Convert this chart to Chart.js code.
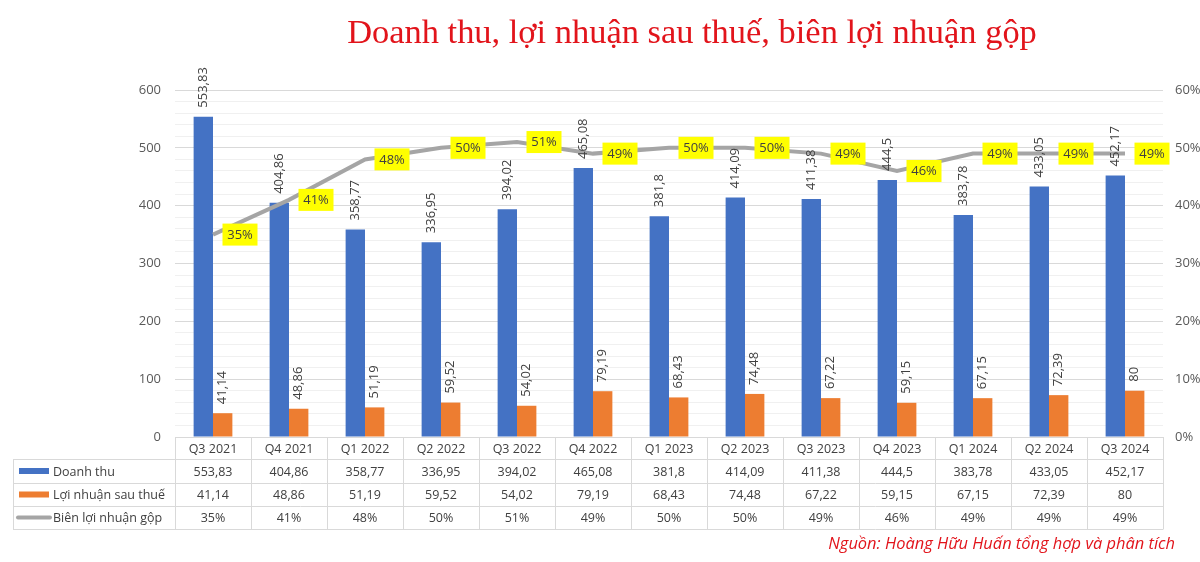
<!DOCTYPE html>
<html>
<head>
<meta charset="utf-8">
<style>
  html, body { margin: 0; padding: 0; background: #ffffff; }
  canvas { display: block; }
</style>
<script src="https://cdn.jsdelivr.net/npm/chart.js@4.4.0/dist/chart.umd.min.js"></script>
</head>
<body>
<canvas id="c" width="1200" height="562"></canvas>
<script>
const titleText = 'Doanh thu, lợi nhuận sau thuế, biên lợi nhuận gộp';
const sourceText = 'Nguồn: Hoàng Hữu Huấn tổng hợp và phân tích';
const categories = ['Q3 2021','Q4 2021','Q1 2022','Q2 2022','Q3 2022','Q4 2022','Q1 2023','Q2 2023','Q3 2023','Q4 2023','Q1 2024','Q2 2024','Q3 2024'];
const revenue = [553.83, 404.86, 358.77, 336.95, 394.02, 465.08, 381.8, 414.09, 411.38, 444.5, 383.78, 433.05, 452.17];
const profit = [41.14, 48.86, 51.19, 59.52, 54.02, 79.19, 68.43, 74.48, 67.22, 59.15, 67.15, 72.39, 80];
const margin = [35, 41, 48, 50, 51, 49, 50, 50, 49, 46, 49, 49, 49];
const seriesNames = ['Doanh thu', 'Lợi nhuận sau thuế', 'Biên lợi nhuận gộp'];
const leftTicks = [0, 100, 200, 300, 400, 500, 600];
const rightTicks = [0, 10, 20, 30, 40, 50, 60];

const BLUE = '#4472c4', ORANGE = '#ed7d31', GRAY = '#a5a5a5';
const TXT = '#404040', AXT = '#595959';
const FONT = '"Open Sans", "Noto Sans", sans-serif';

function fmt(v) { return String(v).replace('.', ','); }

const decorPlugin = {
  id: 'decor',
  afterDatasetsDraw(chart) {
    const ctx = chart.ctx;
    ctx.save();
    // bar value labels (rotated)
    [0, 1].forEach(di => {
      const meta = chart.getDatasetMeta(di);
      const data = chart.data.datasets[di].data;
      meta.data.forEach((bar, i) => {
        ctx.save();
        ctx.translate(bar.x, bar.y - 9);
        ctx.rotate(-Math.PI / 2);
        ctx.font = '13px ' + FONT;
        ctx.fillStyle = TXT;
        ctx.textAlign = 'left';
        ctx.textBaseline = 'middle';
        ctx.fillText(fmt(data[i]), 0, 0);
        ctx.restore();
      });
    });
    // line labels in yellow boxes
    const lm = chart.getDatasetMeta(2);
    lm.data.forEach((pt, i) => {
      const t = margin[i] + '%';
      ctx.font = '13px ' + FONT;
      const w = 35, h = 22;
      const cx = pt.x + 27, cy = pt.y;
      ctx.fillStyle = '#ffff00';
      ctx.fillRect(cx - w / 2, cy - h / 2, w, h);
      ctx.fillStyle = TXT;
      ctx.textAlign = 'center';
      ctx.textBaseline = 'middle';
      ctx.fillText(t, cx, cy + 0.5);
    });
    ctx.restore();
  },
  afterDraw(chart) {
    const ctx = chart.ctx;
    const area = chart.chartArea;
    const xs = chart.scales.x;
    ctx.save();
    // title
    let fs = 32;
    ctx.font = fs + 'px "Liberation Serif", "DejaVu Serif", serif';
    const tw = ctx.measureText(titleText).width;
    fs = fs * 690 / tw;
    ctx.font = fs + 'px "Liberation Serif", "DejaVu Serif", serif';
    ctx.fillStyle = '#e2141b';
    ctx.textAlign = 'center';
    ctx.textBaseline = 'alphabetic';
    ctx.fillText(titleText, 692, 43);

    // data table
    const n = categories.length;
    const colW = (area.right - area.left) / n;
    const rows = [area.bottom, 459, 483, 506, 529];
    const tableLeft = 13;
    ctx.strokeStyle = '#d9d9d9';
    ctx.lineWidth = 1;
    ctx.beginPath();
    ctx.moveTo(area.left, rows[0] + 0.5); ctx.lineTo(area.right, rows[0] + 0.5);
    for (let r = 1; r < rows.length; r++) {
      ctx.moveTo(tableLeft, rows[r] + 0.5); ctx.lineTo(area.right, rows[r] + 0.5);
    }
    for (let c = 0; c <= n; c++) {
      const x = Math.round(area.left + c * colW) + 0.5;
      ctx.moveTo(x, rows[0]); ctx.lineTo(x, rows[4] + 0.5);
    }
    ctx.moveTo(tableLeft + 0.5, rows[1]); ctx.lineTo(tableLeft + 0.5, rows[4] + 0.5);
    ctx.stroke();

    ctx.font = '12.5px ' + FONT;
    ctx.fillStyle = TXT;
    ctx.textBaseline = 'middle';
    ctx.textAlign = 'center';
    const rowVals = [categories, revenue.map(fmt), profit.map(fmt), margin.map(v => v + '%')];
    for (let r = 0; r < 4; r++) {
      const cy = (rows[r] + rows[r + 1]) / 2 + 1;
      for (let c = 0; c < n; c++) {
        const cx = xs.getPixelForValue(c);
        ctx.fillText(rowVals[r][c], cx, cy);
      }
    }
    // legend keys and names
    ctx.textAlign = 'left';
    for (let r = 1; r < 4; r++) {
      const cy = (rows[r] + rows[r + 1]) / 2;
      if (r === 1 || r === 2) {
        ctx.fillStyle = r === 1 ? BLUE : ORANGE;
        ctx.fillRect(19, cy - 3, 30, 6);
      } else {
        ctx.strokeStyle = GRAY;
        ctx.lineWidth = 4;
        ctx.lineCap = 'round';
        ctx.beginPath();
        ctx.moveTo(18, cy); ctx.lineTo(50, cy);
        ctx.stroke();
      }
      ctx.fillStyle = TXT;
      ctx.fillText(seriesNames[r - 1], 53, cy + 1);
    }

    // source
    let sf = 15;
    ctx.font = 'italic ' + sf + 'px "Open Sans", "Noto Sans", sans-serif';
    const sw = ctx.measureText(sourceText).width;
    sf = sf * 347 / sw;
    ctx.font = 'italic ' + sf + 'px "Open Sans", "Noto Sans", sans-serif';
    ctx.fillStyle = '#e2141b';
    ctx.textAlign = 'right';
    ctx.textBaseline = 'middle';
    ctx.fillText(sourceText, 1175, 544);
    ctx.restore();
  }
};

new Chart(document.getElementById('c'), {
  type: 'bar',
  data: {
    labels: categories,
    datasets: [
      { label: seriesNames[0], data: revenue, backgroundColor: BLUE, yAxisID: 'y', order: 2,
        barPercentage: 1, categoryPercentage: 0.51 },
      { label: seriesNames[1], data: profit, backgroundColor: ORANGE, yAxisID: 'y', order: 2,
        barPercentage: 1, categoryPercentage: 0.51 },
      { type: 'line', label: seriesNames[2], data: margin, borderColor: GRAY, borderWidth: 4,
        pointRadius: 0, tension: 0, yAxisID: 'y1', order: 1, borderCapStyle: 'butt' }
    ]
  },
  options: {
    responsive: false,
    animation: false,
    devicePixelRatio: 1,
    layout: { padding: { top: 90, bottom: 125, left: 0, right: 0 } },
    plugins: { legend: { display: false }, title: { display: false }, tooltip: { enabled: false } },
    scales: {
      x: { display: false },
      y: {
        position: 'left', min: 0, max: 600,
        afterFit(s) { s.width = 175; },
        afterBuildTicks(s) {
          const t = [];
          for (let v = 0; v <= 600; v += 20) t.push({ value: v });
          s.ticks = t;
        },
        ticks: {
          autoSkip: false, padding: 14, color: AXT, font: { size: 13, family: FONT },
          callback: v => leftTicks.includes(v) ? String(v) : ''
        },
        grid: {
          drawTicks: false,
          color: c => (c.tick && c.tick.value % 100 === 0) ? '#d9d9d9' : '#f0f0f0',
          lineWidth: 1
        },
        border: { display: false }
      },
      y1: {
        position: 'right', min: 0, max: 60,
        afterFit(s) { s.width = 37; },
        afterBuildTicks(s) { s.ticks = rightTicks.map(v => ({ value: v })); },
        ticks: { padding: 12, color: AXT, font: { size: 13, family: FONT }, callback: v => v + '%' },
        grid: { drawOnChartArea: false, drawTicks: false },
        border: { display: false }
      }
    }
  },
  plugins: [decorPlugin]
});
</script>
</body>
</html>
